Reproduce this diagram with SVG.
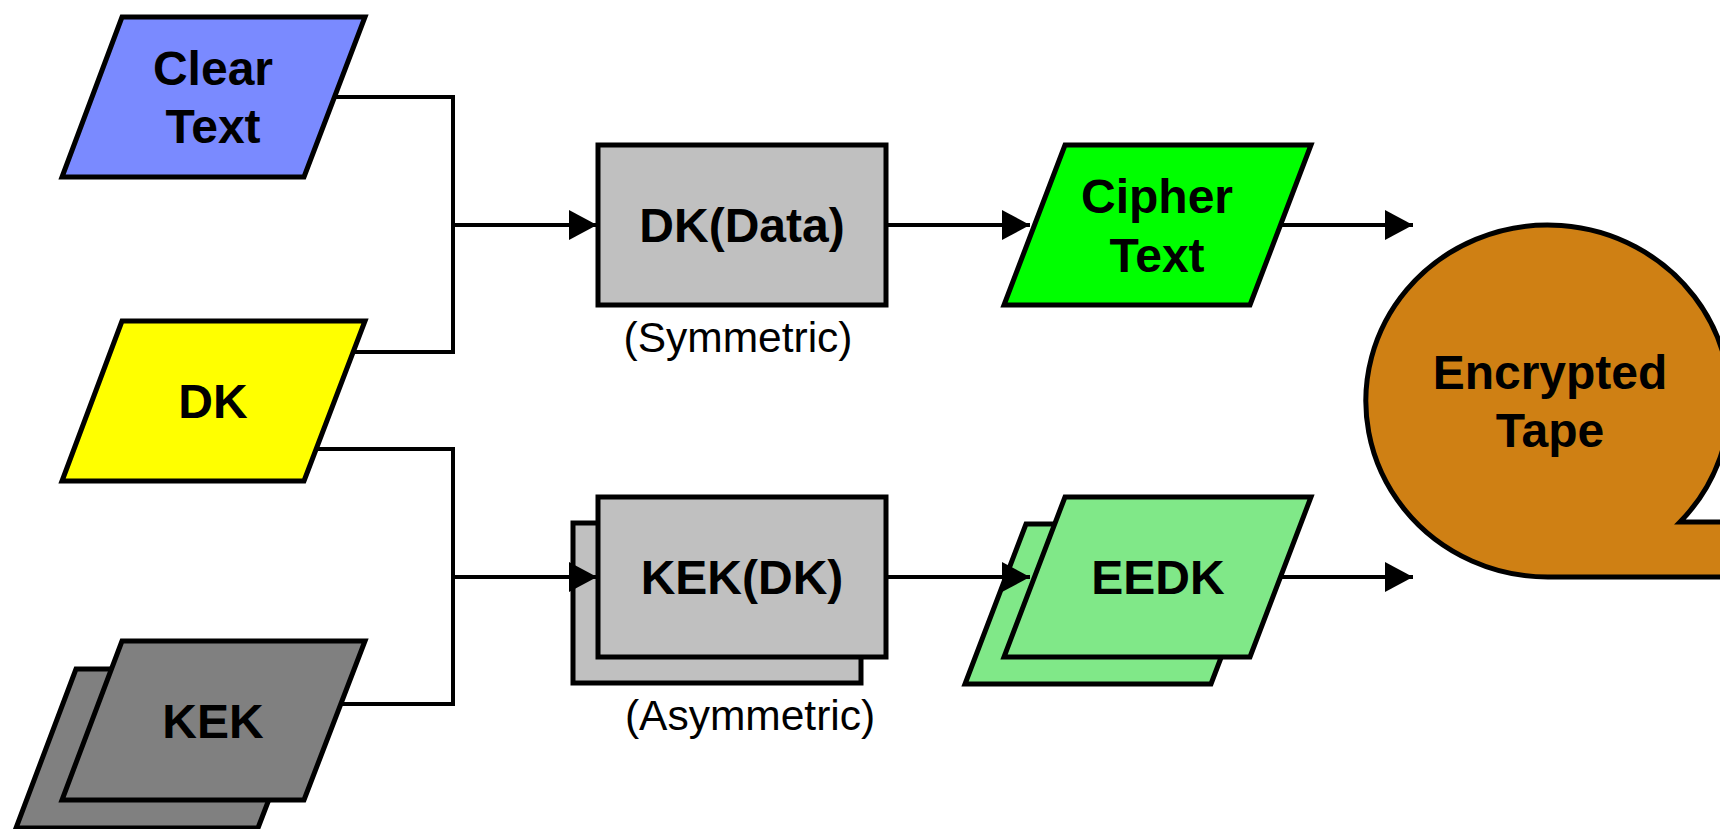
<svg xmlns="http://www.w3.org/2000/svg" width="1720" height="829" viewBox="0 0 1720 829">
<defs>
<style>
.shape{stroke:#000;stroke-width:5;stroke-linejoin:miter}
.conn{fill:none;stroke:#000;stroke-width:4}
.lbl{font-family:"Liberation Sans",Arial,sans-serif;font-weight:bold;font-size:48px;fill:#000;text-anchor:middle}
.sub{font-family:"Liberation Sans",Arial,sans-serif;font-size:42.5px;fill:#000;text-anchor:middle}
</style>
<marker id="arr" markerUnits="userSpaceOnUse" markerWidth="30" markerHeight="32" refX="28" refY="15" orient="auto">
<path d="M0,0 L28,15 L0,30 Z" fill="#000"/>
</marker>
</defs>
<rect width="1720" height="829" fill="#fff"/>

<g id="clear-text">
<polygon class="shape" fill="#7A8AFF" points="122,17 365,17 304,177 62,177"/>
<text class="lbl" x="213" y="85">Clear</text>
<text class="lbl" x="213" y="143">Text</text>
</g>

<g id="dk">
<polygon class="shape" fill="#FFFF00" points="122,321 365,321 304,481 62,481"/>
<text class="lbl" x="213" y="418">DK</text>
</g>

<g id="kek">
<polygon class="shape" fill="#808080" points="76,669 319,669 258,828 16,828"/>
<polygon class="shape" fill="#808080" points="122,641 365,641 304,800 62,800"/>
<text class="lbl" x="213" y="738">KEK</text>
</g>

<g id="dk-data">
<rect class="shape" fill="#C0C0C0" x="598" y="145" width="288" height="160"/>
<text class="lbl" x="742" y="242">DK(Data)</text>
<text class="sub" x="738" y="352">(Symmetric)</text>
</g>

<g id="kek-dk">
<rect class="shape" fill="#C0C0C0" x="573" y="523" width="288" height="160"/>
<rect class="shape" fill="#C0C0C0" x="598" y="497" width="288" height="160"/>
<text class="lbl" x="742" y="594">KEK(DK)</text>
<text class="sub" x="750" y="730">(Asymmetric)</text>
</g>

<g id="cipher-text">
<polygon class="shape" fill="#00FF00" points="1065,145 1311,145 1250,305 1004,305"/>
<text class="lbl" x="1157" y="213">Cipher</text>
<text class="lbl" x="1157" y="272">Text</text>
</g>

<g id="eedk">
<polygon class="shape" fill="#80E888" points="1026,524 1272,524 1211,684 965,684"/>
<polygon class="shape" fill="#80E888" points="1065,497 1311,497 1250,657 1004,657"/>
<text class="lbl" x="1158" y="594">EEDK</text>
</g>

<g id="encrypted-tape">
<path class="shape" fill="#CF8014" d="M1680,522 A182,176 0 1 0 1548,577 L1745,577 L1745,522 Z"/>
<text class="lbl" x="1550" y="389">Encrypted</text>
<text class="lbl" x="1550" y="447">Tape</text>
</g>

<g id="connectors">
<polyline class="conn" points="335,97 453,97 453,352 353,352"/>
<polyline class="conn" points="316,449 453,449 453,704 341,704"/>
<line class="conn" x1="453" y1="225" x2="597" y2="225" marker-end="url(#arr)"/>
<line class="conn" x1="453" y1="577" x2="597" y2="577" marker-end="url(#arr)"/>
<line class="conn" x1="886" y1="225" x2="1030" y2="225" marker-end="url(#arr)"/>
<line class="conn" x1="886" y1="577" x2="1030" y2="577" marker-end="url(#arr)"/>
<line class="conn" x1="1280" y1="225" x2="1413" y2="225" marker-end="url(#arr)"/>
<line class="conn" x1="1280" y1="577" x2="1413" y2="577" marker-end="url(#arr)"/>
</g>
</svg>
